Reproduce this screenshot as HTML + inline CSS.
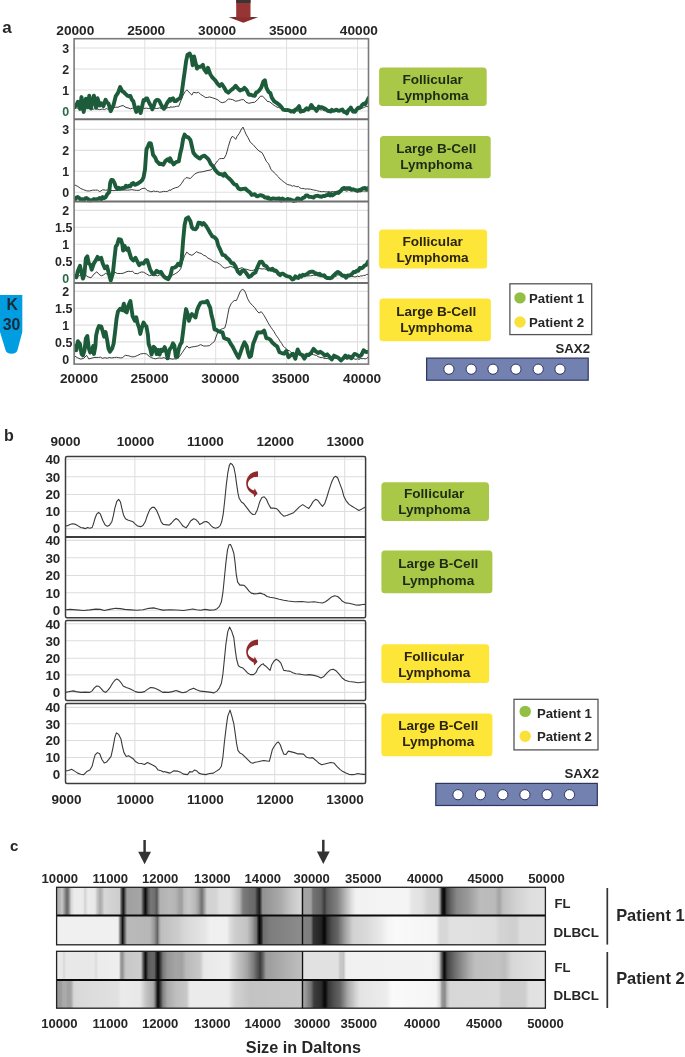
<!DOCTYPE html>
<html><head><meta charset="utf-8"><style>
html,body{margin:0;padding:0;background:#fff;}
body{width:685px;height:1057px;overflow:hidden;}
svg{display:block;will-change:transform;}
text{font-family:"Liberation Sans",sans-serif;font-weight:bold;}
</style></head><body>
<svg width="685" height="1057" viewBox="0 0 685 1057">
<rect width="685" height="1057" fill="#fff"/>
<text x="2.30" y="33.00" font-size="17" text-anchor="start" fill="#262626" >a</text>
<g><rect x="236.2" y="0" width="14.3" height="18" fill="#973535"/><rect x="236.2" y="0" width="14.3" height="3" fill="#3a3434"/><path d="M228.8,17.3 L258,17.3 L243.3,22.8 Z" fill="#8c2e2e"/><path d="M228.8,17.3 L236.2,17.3 L236.2,18.6 Z M250.5,17.3 L258,17.3 L250.5,18.6 Z" fill="#3a2a2a"/></g>
<text x="75.30" y="35.30" font-size="13.7" text-anchor="middle" fill="#262626" >20000</text>
<text x="146.20" y="35.30" font-size="13.7" text-anchor="middle" fill="#262626" >25000</text>
<text x="217.10" y="35.30" font-size="13.7" text-anchor="middle" fill="#262626" >30000</text>
<text x="288.00" y="35.30" font-size="13.7" text-anchor="middle" fill="#262626" >35000</text>
<text x="358.90" y="35.30" font-size="13.7" text-anchor="middle" fill="#262626" >40000</text>
<line x1="74.1" y1="48.0" x2="368.5" y2="48.0" stroke="#e0e0e0" stroke-width="1.1"/>
<line x1="74.1" y1="69.0" x2="368.5" y2="69.0" stroke="#e0e0e0" stroke-width="1.1"/>
<line x1="74.1" y1="90.0" x2="368.5" y2="90.0" stroke="#e0e0e0" stroke-width="1.1"/>
<line x1="74.1" y1="111.0" x2="368.5" y2="111.0" stroke="#e0e0e0" stroke-width="1.1"/>
<line x1="144.8" y1="38.7" x2="144.8" y2="119.1" stroke="#e0e0e0" stroke-width="1"/>
<line x1="215.70000000000002" y1="38.7" x2="215.70000000000002" y2="119.1" stroke="#e0e0e0" stroke-width="1"/>
<line x1="286.6" y1="38.7" x2="286.6" y2="119.1" stroke="#e0e0e0" stroke-width="1"/>
<line x1="357.5" y1="38.7" x2="357.5" y2="119.1" stroke="#e0e0e0" stroke-width="1"/>
<text x="65.70" y="52.84" font-size="12.4" text-anchor="middle" fill="#262626" >3</text>
<text x="65.70" y="73.84" font-size="12.4" text-anchor="middle" fill="#262626" >2</text>
<text x="65.70" y="94.84" font-size="12.4" text-anchor="middle" fill="#262626" >1</text>
<text x="65.70" y="115.84" font-size="12.4" text-anchor="middle" fill="#2d6a48" >0</text>
<line x1="74.1" y1="129.4" x2="368.5" y2="129.4" stroke="#e0e0e0" stroke-width="1.1"/>
<line x1="74.1" y1="150.4" x2="368.5" y2="150.4" stroke="#e0e0e0" stroke-width="1.1"/>
<line x1="74.1" y1="171.3" x2="368.5" y2="171.3" stroke="#e0e0e0" stroke-width="1.1"/>
<line x1="74.1" y1="192.2" x2="368.5" y2="192.2" stroke="#e0e0e0" stroke-width="1.1"/>
<line x1="144.8" y1="120.0" x2="144.8" y2="201.6" stroke="#e0e0e0" stroke-width="1"/>
<line x1="215.70000000000002" y1="120.0" x2="215.70000000000002" y2="201.6" stroke="#e0e0e0" stroke-width="1"/>
<line x1="286.6" y1="120.0" x2="286.6" y2="201.6" stroke="#e0e0e0" stroke-width="1"/>
<line x1="357.5" y1="120.0" x2="357.5" y2="201.6" stroke="#e0e0e0" stroke-width="1"/>
<text x="65.70" y="134.24" font-size="12.4" text-anchor="middle" fill="#262626" >3</text>
<text x="65.70" y="155.24" font-size="12.4" text-anchor="middle" fill="#262626" >2</text>
<text x="65.70" y="176.14" font-size="12.4" text-anchor="middle" fill="#262626" >1</text>
<text x="65.70" y="197.04" font-size="12.4" text-anchor="middle" fill="#262626" >0</text>
<line x1="74.1" y1="210.4" x2="368.5" y2="210.4" stroke="#e0e0e0" stroke-width="1.1"/>
<line x1="74.1" y1="227.3" x2="368.5" y2="227.3" stroke="#e0e0e0" stroke-width="1.1"/>
<line x1="74.1" y1="244.2" x2="368.5" y2="244.2" stroke="#e0e0e0" stroke-width="1.1"/>
<line x1="74.1" y1="261.1" x2="368.5" y2="261.1" stroke="#e0e0e0" stroke-width="1.1"/>
<line x1="74.1" y1="278.0" x2="368.5" y2="278.0" stroke="#e0e0e0" stroke-width="1.1"/>
<line x1="144.8" y1="202.0" x2="144.8" y2="282.8" stroke="#e0e0e0" stroke-width="1"/>
<line x1="215.70000000000002" y1="202.0" x2="215.70000000000002" y2="282.8" stroke="#e0e0e0" stroke-width="1"/>
<line x1="286.6" y1="202.0" x2="286.6" y2="282.8" stroke="#e0e0e0" stroke-width="1"/>
<line x1="357.5" y1="202.0" x2="357.5" y2="282.8" stroke="#e0e0e0" stroke-width="1"/>
<text x="65.70" y="215.24" font-size="12.4" text-anchor="middle" fill="#262626" >2</text>
<text x="63.70" y="232.14" font-size="12.4" text-anchor="middle" fill="#262626" >1.5</text>
<text x="65.70" y="249.04" font-size="12.4" text-anchor="middle" fill="#262626" >1</text>
<text x="63.70" y="265.94" font-size="12.4" text-anchor="middle" fill="#262626" >0.5</text>
<text x="65.70" y="282.84" font-size="12.4" text-anchor="middle" fill="#2d6a48" >0</text>
<line x1="74.1" y1="291.4" x2="368.5" y2="291.4" stroke="#e0e0e0" stroke-width="1.1"/>
<line x1="74.1" y1="308.3" x2="368.5" y2="308.3" stroke="#e0e0e0" stroke-width="1.1"/>
<line x1="74.1" y1="325.1" x2="368.5" y2="325.1" stroke="#e0e0e0" stroke-width="1.1"/>
<line x1="74.1" y1="341.9" x2="368.5" y2="341.9" stroke="#e0e0e0" stroke-width="1.1"/>
<line x1="74.1" y1="358.7" x2="368.5" y2="358.7" stroke="#e0e0e0" stroke-width="1.1"/>
<line x1="144.8" y1="283.2" x2="144.8" y2="364.1" stroke="#e0e0e0" stroke-width="1"/>
<line x1="215.70000000000002" y1="283.2" x2="215.70000000000002" y2="364.1" stroke="#e0e0e0" stroke-width="1"/>
<line x1="286.6" y1="283.2" x2="286.6" y2="364.1" stroke="#e0e0e0" stroke-width="1"/>
<line x1="357.5" y1="283.2" x2="357.5" y2="364.1" stroke="#e0e0e0" stroke-width="1"/>
<text x="65.70" y="296.24" font-size="12.4" text-anchor="middle" fill="#262626" >2</text>
<text x="63.70" y="313.14" font-size="12.4" text-anchor="middle" fill="#262626" >1.5</text>
<text x="65.70" y="329.94" font-size="12.4" text-anchor="middle" fill="#262626" >1</text>
<text x="63.70" y="346.74" font-size="12.4" text-anchor="middle" fill="#262626" >0.5</text>
<text x="65.70" y="363.54" font-size="12.4" text-anchor="middle" fill="#262626" >0</text>
<clipPath id="clipa"><rect x="74.1" y="38" width="294.4" height="327"/></clipPath>
<g clip-path="url(#clipa)">
<path d="M72.00,107.90 L73.62,107.80 L75.24,108.39 L76.87,107.89 L78.49,108.43 L80.11,108.34 L81.73,108.12 L83.35,108.65 L84.98,108.26 L86.60,108.74 L88.22,108.42 L89.84,108.49 L91.46,108.87 L93.09,109.32 L94.71,108.67 L96.33,108.82 L97.95,109.27 L99.58,109.64 L101.20,109.32 L102.90,109.06 L104.60,109.57 L106.31,108.57 L108.01,109.31 L109.71,108.67 L111.42,108.45 L113.61,107.69 L115.80,107.15 L117.99,107.29 L120.18,106.29 L123.09,105.53 L126.01,107.48 L128.20,107.95 L130.39,108.85 L132.22,108.26 L134.04,108.14 L135.87,108.18 L137.69,108.55 L139.52,108.29 L141.34,108.18 L143.17,108.45 L144.99,108.32 L146.61,108.13 L148.24,108.59 L149.86,108.47 L151.48,107.98 L153.10,108.28 L154.73,108.20 L156.35,108.51 L157.97,108.33 L159.59,107.86 L161.29,108.50 L163.00,107.59 L164.70,107.85 L166.40,108.14 L168.11,107.48 L169.81,107.77 L170.00,106.88 L172.19,107.15 L174.38,106.88 L176.57,106.32 L178.76,106.26 L180.95,100.59 L183.14,95.13 L185.33,91.38 L186.79,89.90 L188.25,91.24 L190.44,93.81 L191.90,95.09 L193.36,92.28 L196.28,92.91 L198.47,92.31 L200.66,94.41 L203.58,96.25 L205.77,97.62 L207.59,97.45 L209.42,96.91 L212.34,97.74 L215.26,98.75 L218.18,100.00 L220.36,102.20 L222.55,102.63 L225.47,101.85 L228.39,98.87 L230.58,99.29 L232.77,99.67 L235.69,101.25 L238.61,100.66 L241.53,99.69 L243.72,99.62 L245.91,102.18 L248.83,103.30 L251.75,102.62 L254.67,102.26 L257.59,99.68 L260.51,96.17 L262.70,96.31 L264.89,98.44 L267.81,101.89 L268.00,101.46 L269.52,101.79 L271.04,102.96 L272.55,104.15 L274.07,105.29 L275.59,106.30 L277.11,107.16 L278.63,107.60 L280.15,108.10 L281.66,108.89 L283.18,109.22 L284.70,109.82 L286.22,110.62 L287.74,110.76 L289.25,110.64 L290.77,110.81 L292.29,110.93 L293.81,110.36 L295.33,111.27 L296.84,111.04 L298.36,111.03 L299.88,110.84 L301.40,110.33 L302.92,110.23 L304.44,109.82 L305.95,110.25 L307.47,109.52 L308.99,109.38 L310.51,109.37 L312.03,109.17 L313.54,109.19 L315.06,109.06 L316.58,109.16 L318.10,109.46 L319.62,109.56 L321.13,109.98 L322.65,109.79 L324.17,110.79 L325.69,110.68 L327.21,110.37 L328.73,110.62 L330.24,110.66 L331.76,110.61 L333.28,110.31 L334.80,110.98 L336.32,111.06 L337.83,110.59 L339.35,110.67 L340.87,110.34 L342.39,110.41 L343.91,110.71 L345.43,110.57 L346.94,111.08 L348.46,110.35 L349.98,110.15 L351.50,111.02 L353.02,110.20 L354.53,109.42 L356.05,109.43 L357.57,108.52 L359.09,108.62 L360.61,108.69 L362.12,108.20 L363.64,107.65 L365.16,106.84 L366.83,106.56 L368.50,106.32" fill="none" stroke="#333" stroke-width="0.95" stroke-linejoin="round" stroke-linecap="round" />
<path d="M72.00,107.34 L73.46,107.94 L74.92,106.68 L76.38,105.04 L77.84,101.86 L80.03,108.92 L81.49,97.08 L83.68,112.06 L85.87,98.63 L88.06,107.29 L89.23,95.63 L90.98,108.60 L92.44,101.27 L93.90,95.70 L96.09,107.76 L97.55,98.28 L99.74,105.57 L101.20,103.21 L103.39,106.08 L105.58,99.74 L107.04,102.51 L108.50,103.58 L110.69,111.22 L112.15,108.05 L113.61,104.69 L115.80,96.10 L117.99,92.86 L120.18,87.03 L122.36,91.35 L123.58,91.85 L124.80,93.26 L126.01,94.36 L127.47,95.68 L128.93,96.35 L130.39,96.00 L131.85,99.61 L133.31,101.32 L134.77,106.97 L136.23,111.89 L138.42,107.23 L140.61,113.00 L142.07,106.56 L143.53,100.07 L144.75,100.44 L145.97,98.46 L147.18,98.52 L149.37,103.27 L150.83,105.65 L152.29,109.32 L153.75,106.14 L155.21,101.27 L156.67,100.05 L158.13,99.95 L159.59,101.47 L161.05,104.58 L162.51,107.29 L163.97,108.75 L165.43,106.60 L166.89,103.29 L168.35,101.12 L169.81,98.98 L170.00,100.88 L171.46,99.23 L172.92,98.25 L174.38,101.08 L175.84,101.10 L178.03,99.37 L180.22,98.08 L181.68,93.33 L183.14,82.61 L184.60,72.29 L186.06,61.45 L187.52,54.68 L189.71,53.60 L191.61,57.87 L192.63,65.20 L194.09,56.45 L195.55,62.64 L197.01,68.58 L198.47,66.64 L200.66,66.88 L202.85,64.92 L204.31,69.57 L206.50,72.47 L207.96,67.75 L210.15,73.96 L212.34,77.42 L213.80,78.95 L215.26,80.39 L217.45,83.66 L219.64,86.04 L221.82,84.02 L224.01,87.27 L226.20,91.21 L228.39,92.75 L230.58,90.50 L232.77,88.86 L234.23,87.39 L235.69,85.79 L237.15,87.68 L238.61,89.22 L240.07,90.45 L241.53,89.69 L242.99,89.59 L244.45,87.81 L246.64,90.06 L248.83,94.80 L250.29,94.59 L251.75,95.07 L253.21,95.51 L254.67,95.84 L256.13,92.62 L257.59,91.90 L259.05,90.57 L261.24,87.66 L263.43,81.49 L264.89,80.23 L266.35,87.71 L268.54,91.97 L270.28,92.87 L271.80,97.65 L274.07,101.07 L276.35,102.73 L278.63,104.27 L280.90,106.45 L283.18,109.57 L285.46,110.10 L287.74,110.07 L289.25,110.42 L290.77,111.50 L292.29,111.07 L293.81,111.82 L295.33,109.55 L296.84,108.97 L299.12,106.18 L300.64,111.74 L302.16,110.87 L303.68,110.97 L305.19,109.71 L306.71,108.19 L308.23,109.44 L309.75,108.10 L311.27,104.94 L313.54,108.07 L315.06,108.75 L316.58,110.84 L318.86,106.64 L320.38,107.43 L321.89,107.09 L323.41,108.06 L324.93,108.63 L326.45,109.76 L327.97,110.96 L329.23,110.98 L330.50,111.61 L331.76,109.81 L333.28,110.84 L334.80,110.44 L336.32,109.66 L337.83,110.50 L339.35,110.76 L340.87,110.14 L342.39,109.53 L343.91,111.94 L345.43,112.26 L346.94,113.43 L348.21,110.25 L349.47,109.34 L350.74,107.58 L353.02,111.48 L355.29,111.88 L356.81,109.30 L358.33,107.66 L359.59,107.98 L360.86,107.02 L362.12,105.03 L363.64,103.65 L365.16,104.20 L367.44,100.40 L368.50,97.97" fill="none" stroke="#1c5c3a" stroke-width="3.9" stroke-linejoin="round" stroke-linecap="round" />
<path d="M72.00,183.43 L74.92,185.01 L77.84,186.44 L80.76,188.53 L83.68,189.73 L86.60,190.84 L89.52,190.97 L92.44,190.23 L95.36,190.10 L97.55,190.12 L99.74,191.62 L102.66,189.81 L105.58,190.17 L107.77,190.12 L109.96,190.37 L112.88,190.59 L115.80,190.52 L118.72,190.30 L120.91,189.94 L123.09,190.12 L125.28,190.05 L127.47,190.14 L129.66,189.98 L131.85,189.65 L134.04,190.02 L136.23,190.34 L139.15,190.34 L142.07,188.60 L144.99,188.13 L147.18,190.53 L149.01,190.94 L150.83,191.84 L153.75,191.07 L155.70,191.45 L157.64,191.36 L159.59,192.23 L161.54,191.90 L163.48,191.39 L165.43,191.53 L167.62,191.33 L169.81,189.85 L170.00,190.56 L172.92,188.71 L175.84,187.61 L177.66,187.22 L179.49,186.05 L181.68,183.24 L183.87,179.77 L186.06,177.58 L188.25,177.97 L190.44,178.46 L192.63,176.14 L194.82,173.88 L197.01,172.92 L199.20,172.13 L202.12,171.84 L205.04,171.18 L207.96,170.40 L210.88,170.04 L213.07,167.66 L215.26,163.92 L217.45,160.92 L219.64,158.76 L221.82,158.49 L224.01,158.59 L226.20,154.55 L228.39,146.48 L230.58,139.23 L232.04,136.48 L233.50,136.91 L235.69,139.38 L237.15,136.28 L239.34,133.33 L241.53,128.96 L242.99,127.08 L244.45,130.42 L245.91,134.06 L248.10,137.79 L250.29,142.21 L253.21,144.78 L256.13,148.08 L259.05,151.09 L261.97,152.58 L264.16,156.66 L266.35,161.34 L268.54,163.76 L269.52,165.83 L271.04,169.45 L272.55,171.28 L274.07,172.44 L275.59,173.93 L277.11,175.73 L278.63,177.18 L280.15,179.05 L281.66,180.13 L283.18,181.49 L284.70,182.54 L286.22,183.74 L287.74,184.66 L289.25,184.93 L290.77,185.24 L292.29,186.28 L293.81,185.60 L295.33,186.33 L296.84,186.70 L298.36,186.56 L299.88,187.88 L301.40,188.47 L302.92,188.43 L304.44,188.76 L305.95,189.15 L307.47,188.78 L308.99,189.16 L310.51,189.14 L312.03,189.70 L313.54,189.90 L315.06,190.30 L316.58,190.44 L318.10,191.13 L319.62,191.29 L321.13,191.68 L322.65,191.60 L324.17,191.55 L325.69,191.81 L327.21,191.88 L328.73,191.48 L330.24,192.05 L331.76,191.63 L333.28,191.69 L334.80,191.69 L336.32,191.52 L337.83,191.10 L339.35,190.24 L340.87,190.65 L342.39,190.45 L343.91,190.05 L345.43,190.62 L346.94,191.27 L348.46,190.30 L349.98,190.59 L351.50,190.10 L353.02,189.93 L354.53,190.50 L356.05,191.34 L357.57,191.04 L359.09,191.81 L360.61,191.89 L362.12,191.26 L363.64,190.99 L365.16,191.09 L366.68,191.30 L368.20,191.11" fill="none" stroke="#333" stroke-width="0.95" stroke-linejoin="round" stroke-linecap="round" />
<path d="M72.00,200.61 L73.46,199.91 L74.92,199.61 L76.38,197.63 L77.84,197.06 L79.30,198.02 L80.76,199.83 L82.22,199.23 L83.68,200.17 L85.14,198.44 L86.60,198.03 L88.06,199.00 L89.52,200.40 L90.98,200.30 L92.44,200.12 L93.90,199.05 L95.36,199.33 L96.82,199.07 L98.28,198.93 L99.74,197.94 L101.20,199.43 L102.66,197.17 L104.12,198.15 L105.58,197.33 L107.04,194.58 L109.23,191.90 L110.25,182.48 L111.42,179.88 L112.88,180.20 L114.34,182.72 L115.80,186.97 L117.26,188.96 L118.72,187.71 L120.18,188.89 L121.64,188.28 L123.09,188.03 L124.55,187.88 L126.01,185.71 L127.47,186.86 L128.93,185.81 L130.39,186.27 L131.85,183.68 L133.31,183.01 L134.77,184.84 L136.23,184.30 L137.69,183.65 L139.88,182.14 L142.07,180.30 L143.53,177.29 L144.99,169.66 L145.72,159.09 L146.45,149.31 L147.91,146.33 L149.37,143.11 L150.83,143.45 L152.00,148.75 L153.02,154.78 L155.21,157.58 L156.67,161.18 L158.13,162.53 L159.59,164.04 L161.05,163.79 L163.24,164.70 L165.43,161.10 L167.62,159.22 L169.81,161.53 L170.00,158.11 L171.46,161.18 L173.65,164.49 L175.11,162.90 L176.57,161.92 L178.76,161.34 L180.22,153.56 L181.68,147.70 L183.14,138.89 L184.60,134.54 L186.06,136.54 L188.25,137.30 L190.44,139.89 L191.90,146.28 L193.36,152.69 L195.55,155.45 L197.74,157.24 L199.93,158.60 L202.12,156.47 L204.31,155.60 L206.50,157.44 L208.69,159.61 L210.88,164.04 L213.07,166.34 L215.26,169.92 L217.45,172.60 L219.64,174.00 L221.82,174.21 L223.28,175.78 L224.74,173.65 L226.93,176.60 L229.12,178.51 L231.31,180.60 L232.77,182.66 L234.23,184.28 L236.42,184.90 L238.61,188.69 L240.80,189.36 L242.99,188.91 L245.18,188.55 L247.37,190.53 L248.83,191.61 L250.29,192.81 L251.75,194.93 L253.21,194.61 L254.67,194.15 L256.13,195.81 L257.59,196.37 L259.05,195.53 L260.51,195.21 L261.97,195.70 L263.43,196.20 L264.89,197.48 L266.35,197.52 L267.81,198.43 L268.00,197.41 L269.21,198.25 L270.43,199.10 L271.64,198.95 L272.86,198.36 L274.07,198.51 L275.29,198.91 L276.50,198.74 L277.72,198.80 L278.93,198.35 L280.15,198.97 L281.36,200.49 L282.57,198.64 L283.79,199.47 L285.00,199.75 L286.22,200.26 L287.43,198.99 L288.65,199.26 L289.86,199.36 L291.08,199.85 L292.29,200.10 L293.50,201.07 L294.72,200.68 L295.93,200.59 L297.15,198.56 L298.36,198.43 L299.88,199.42 L301.40,199.32 L302.92,197.88 L304.44,197.38 L305.95,195.33 L307.47,195.43 L308.99,196.86 L310.51,196.89 L312.03,197.21 L313.54,197.57 L315.06,196.07 L316.58,195.87 L317.80,195.76 L319.01,196.35 L320.22,196.49 L321.44,196.85 L322.65,196.15 L323.87,195.84 L325.08,195.95 L326.30,195.12 L327.51,195.17 L328.73,193.89 L329.94,195.38 L331.15,194.02 L332.37,195.38 L333.58,194.62 L334.80,193.72 L336.06,192.82 L337.33,192.59 L338.59,192.93 L340.87,190.79 L342.39,188.74 L343.91,187.89 L345.43,188.51 L346.94,188.26 L348.46,188.21 L349.98,188.23 L351.50,189.82 L353.02,189.28 L354.53,189.92 L356.05,190.27 L357.57,190.98 L359.09,189.91 L360.61,190.06 L362.12,188.78 L363.64,188.10 L365.16,187.97 L366.68,189.32 L368.20,188.08" fill="none" stroke="#1c5c3a" stroke-width="3.9" stroke-linejoin="round" stroke-linecap="round" />
<path d="M72.00,276.12 L74.19,276.08 L76.38,276.16 L78.57,275.91 L80.76,275.36 L82.95,275.10 L85.14,274.94 L88.06,276.81 L90.98,277.80 L93.90,274.18 L96.82,271.80 L99.01,274.29 L101.20,275.83 L103.39,275.00 L105.58,273.42 L107.77,274.38 L109.96,274.69 L112.15,273.36 L114.34,271.97 L117.26,273.46 L120.18,273.53 L123.09,273.31 L126.01,271.99 L128.20,271.25 L130.39,271.50 L132.58,271.33 L134.77,273.44 L137.69,273.72 L139.52,272.68 L141.34,271.99 L143.53,272.18 L146.45,273.89 L149.37,275.63 L151.56,275.19 L153.75,275.81 L155.70,275.38 L157.64,275.90 L159.59,274.82 L161.54,275.22 L163.48,275.72 L165.43,276.54 L167.62,276.68 L169.81,276.30 L170.00,276.15 L172.92,274.95 L175.84,273.42 L178.76,271.36 L180.95,268.30 L182.41,261.75 L184.60,255.72 L186.79,252.09 L188.98,254.18 L191.90,255.35 L194.09,253.89 L196.28,251.66 L199.20,252.95 L201.39,253.52 L203.58,255.25 L205.77,256.06 L207.96,258.12 L210.88,259.48 L213.80,261.78 L216.72,262.19 L219.64,264.09 L222.55,266.74 L224.74,268.21 L227.66,267.38 L230.58,266.41 L232.77,267.13 L234.96,268.49 L237.15,269.76 L240.07,268.31 L242.26,267.75 L244.45,269.01 L246.64,269.31 L249.56,270.28 L251.39,270.53 L253.21,270.34 L255.40,269.25 L257.59,268.88 L259.78,268.54 L261.97,269.03 L264.16,268.74 L266.35,269.59 L268.54,270.18 L270.25,270.18 L271.97,270.67 L273.68,271.91 L275.40,272.13 L277.11,272.33 L278.63,273.34 L280.15,273.50 L281.66,274.01 L283.18,274.30 L284.70,275.61 L286.22,276.32 L287.74,276.61 L289.25,277.49 L290.77,277.14 L292.29,277.92 L293.81,277.78 L295.33,277.88 L296.84,277.50 L298.36,276.55 L299.88,276.27 L301.40,276.29 L302.92,276.20 L304.44,276.49 L305.95,275.59 L307.47,276.06 L308.99,275.84 L310.51,275.77 L312.03,275.57 L313.54,275.26 L315.06,275.28 L316.58,275.57 L318.10,275.92 L319.62,276.64 L321.13,276.25 L322.65,276.52 L324.17,277.22 L325.69,276.87 L327.21,276.84 L328.73,276.96 L330.24,277.22 L331.76,276.74 L333.28,277.15 L334.80,276.54 L336.32,276.14 L337.83,274.91 L339.35,274.92 L340.87,275.12 L342.39,275.72 L343.91,276.12 L345.43,275.85 L346.94,275.64 L348.46,275.82 L349.98,276.03 L351.50,276.27 L353.02,276.53 L354.53,276.82 L356.05,276.83 L357.57,276.10 L359.09,276.63 L360.61,275.89 L362.12,275.97 L363.64,275.40 L365.16,275.39 L366.68,274.47 L368.20,274.39" fill="none" stroke="#333" stroke-width="0.95" stroke-linejoin="round" stroke-linecap="round" />
<path d="M72.00,275.36 L74.19,276.08 L76.38,277.34 L77.84,270.92 L80.03,265.87 L81.49,272.61 L82.95,278.60 L84.41,274.08 L85.87,258.41 L87.33,256.34 L88.79,263.45 L90.25,264.57 L91.71,269.69 L93.90,263.36 L96.09,259.80 L97.55,256.91 L99.01,259.14 L101.20,257.85 L102.66,263.22 L104.85,268.16 L107.04,266.32 L108.50,272.31 L110.69,280.60 L112.88,273.18 L114.34,259.34 L115.80,246.43 L117.26,244.60 L118.72,239.30 L120.91,239.62 L122.36,244.41 L123.09,250.62 L124.55,245.85 L126.74,249.85 L128.20,248.44 L129.66,253.39 L131.12,258.11 L133.31,260.52 L135.50,257.74 L136.96,260.77 L139.15,265.18 L141.34,263.11 L143.53,263.58 L145.72,260.24 L147.18,260.20 L148.64,264.63 L150.10,269.38 L152.29,273.31 L154.48,273.80 L156.67,270.72 L158.86,272.37 L161.05,272.03 L163.24,275.77 L165.43,277.87 L166.89,278.58 L168.35,279.14 L170.54,275.01 L172.19,267.87 L174.38,267.58 L176.57,266.22 L178.03,263.76 L180.22,265.27 L181.68,259.39 L183.14,240.46 L184.60,224.96 L186.06,218.66 L188.25,217.33 L190.44,221.24 L191.90,227.37 L193.36,228.90 L195.55,229.26 L197.01,227.51 L198.47,222.71 L200.66,223.00 L202.12,224.61 L203.58,223.19 L205.77,225.52 L207.96,228.99 L210.15,232.96 L212.34,236.41 L214.53,237.21 L216.72,239.81 L218.18,245.37 L220.36,249.94 L222.55,254.92 L224.74,255.30 L226.93,257.93 L229.12,259.57 L231.31,262.78 L233.50,263.45 L235.69,266.68 L237.88,271.58 L240.07,273.93 L242.26,270.67 L244.45,270.78 L246.64,273.66 L248.83,276.94 L251.02,275.98 L253.21,273.63 L255.40,272.51 L257.59,266.74 L259.78,262.01 L261.97,261.79 L264.16,265.17 L266.35,266.18 L268.54,269.50 L269.79,269.11 L271.04,269.79 L272.55,268.71 L274.07,270.46 L275.59,270.36 L277.11,271.90 L278.63,274.01 L280.15,275.11 L281.66,273.69 L283.18,273.77 L284.70,274.93 L286.22,275.95 L287.74,276.41 L289.25,276.60 L290.77,277.63 L292.29,279.44 L293.81,279.06 L295.33,276.42 L296.84,277.56 L298.36,277.99 L299.88,275.65 L301.40,276.65 L302.92,274.69 L304.44,275.37 L305.95,274.50 L307.47,273.91 L308.99,272.44 L310.51,271.94 L312.03,271.53 L313.54,271.95 L315.06,273.22 L316.58,273.51 L318.10,274.25 L319.62,273.72 L321.13,275.41 L322.65,275.50 L324.17,275.32 L325.69,277.25 L327.21,278.04 L328.73,278.09 L330.24,278.24 L331.76,277.75 L333.28,275.80 L335.56,273.57 L337.83,271.96 L340.11,273.49 L341.63,275.02 L343.15,275.93 L344.67,275.66 L346.18,277.73 L347.70,275.37 L349.22,275.66 L350.74,275.00 L352.26,273.66 L353.78,271.89 L355.29,272.12 L356.81,270.70 L358.33,270.83 L359.85,267.90 L361.37,268.34 L362.88,267.51 L364.40,265.79 L366.68,264.45 L368.20,261.48" fill="none" stroke="#1c5c3a" stroke-width="3.9" stroke-linejoin="round" stroke-linecap="round" />
<path d="M72.73,354.69 L74.92,356.20 L77.84,357.90 L80.76,359.10 L83.68,358.33 L86.60,355.39 L88.79,358.93 L90.98,358.34 L93.90,357.48 L96.09,357.40 L98.28,357.44 L100.47,357.21 L102.66,358.31 L104.85,357.69 L107.04,358.23 L109.23,357.56 L111.42,357.91 L114.34,357.60 L116.53,357.26 L118.72,357.68 L120.54,357.92 L122.36,357.73 L125.28,355.26 L127.11,355.62 L128.93,355.82 L131.85,356.89 L134.77,356.63 L137.69,355.39 L140.61,353.93 L143.53,353.53 L146.45,353.88 L149.37,356.48 L151.56,357.68 L153.75,358.50 L155.70,358.77 L157.64,358.21 L159.59,357.99 L161.78,358.29 L163.97,357.52 L166.16,358.99 L168.35,359.21 L170.00,358.54 L172.19,359.16 L174.38,358.85 L176.20,358.99 L178.03,357.99 L180.22,355.58 L182.41,352.34 L184.60,349.10 L186.79,345.91 L188.98,347.94 L191.90,346.95 L194.82,346.55 L197.74,345.99 L200.66,344.62 L203.58,345.99 L206.50,346.03 L209.42,345.67 L212.34,343.13 L214.53,341.36 L215.99,337.01 L218.18,331.28 L220.36,329.56 L222.55,328.65 L224.74,328.00 L226.20,323.27 L227.66,315.21 L229.12,308.00 L231.31,303.32 L234.23,300.50 L236.42,300.48 L237.88,297.18 L240.07,291.83 L242.26,289.16 L244.45,290.48 L245.91,293.76 L247.37,298.15 L249.56,302.14 L252.48,305.48 L254.67,307.52 L256.86,310.83 L259.05,313.09 L261.24,311.67 L263.43,314.50 L265.62,318.09 L267.81,322.28 L268.00,322.60 L269.52,325.17 L271.04,327.45 L272.55,329.59 L274.07,331.61 L275.59,334.52 L277.11,336.72 L278.63,338.78 L280.15,341.35 L281.66,343.43 L283.18,346.20 L284.70,347.51 L286.22,348.55 L287.74,350.34 L289.25,350.62 L290.77,352.09 L292.29,352.96 L293.81,353.32 L295.33,353.67 L296.84,354.54 L298.36,353.93 L299.88,354.62 L301.40,355.01 L302.92,354.21 L304.44,354.27 L305.95,354.68 L307.47,354.57 L308.99,354.71 L310.51,354.98 L312.03,354.44 L313.54,354.68 L315.06,355.18 L316.58,355.43 L318.10,356.78 L319.62,357.18 L321.13,357.62 L322.65,357.41 L324.17,358.44 L325.69,358.53 L327.21,358.44 L328.73,358.91 L330.24,358.62 L331.76,358.39 L333.28,358.27 L334.80,358.40 L336.32,358.20 L337.83,358.50 L339.35,358.92 L340.87,358.86 L342.39,359.01 L343.91,358.88 L345.43,358.43 L346.94,358.72 L348.46,358.60 L349.98,358.95 L351.50,358.69 L353.02,358.43 L354.53,358.92 L356.05,359.36 L357.57,358.72 L359.09,359.50 L360.61,358.52 L362.12,358.65 L363.64,358.52 L365.16,358.91 L366.68,358.35 L368.20,357.15" fill="none" stroke="#333" stroke-width="0.95" stroke-linejoin="round" stroke-linecap="round" />
<path d="M72.73,364.29 L73.46,345.85 L74.92,345.61 L76.38,350.24 L77.84,341.28 L80.03,344.21 L81.49,353.82 L82.95,355.42 L84.41,350.98 L85.87,338.53 L87.33,335.95 L88.79,348.44 L90.25,352.51 L91.71,349.94 L93.17,346.10 L93.90,354.03 L95.36,346.39 L96.09,335.59 L97.55,329.54 L99.01,326.07 L101.20,326.33 L102.66,331.08 L104.12,336.69 L105.58,332.05 L107.04,339.53 L108.50,348.64 L109.96,351.73 L112.15,348.37 L113.61,343.74 L115.07,332.09 L116.53,318.92 L117.99,311.49 L120.18,308.71 L122.36,310.26 L123.82,303.67 L125.28,311.40 L126.74,312.36 L128.20,306.06 L130.39,300.95 L131.56,309.14 L132.58,316.08 L134.77,320.77 L136.23,317.22 L137.69,323.85 L139.15,327.85 L140.32,333.91 L141.78,327.86 L143.53,322.58 L144.99,325.10 L146.45,326.48 L147.91,334.85 L148.64,344.03 L150.10,347.98 L151.56,354.52 L153.75,346.81 L155.21,348.27 L156.67,354.10 L158.13,349.96 L159.59,354.59 L161.05,349.72 L162.51,351.02 L164.70,347.16 L166.16,351.59 L167.62,358.39 L169.08,351.05 L170.10,348.76 L171.46,347.25 L172.92,343.32 L174.38,345.55 L175.84,356.71 L177.30,356.88 L178.76,348.96 L180.22,344.63 L181.68,342.45 L183.14,331.30 L184.60,318.95 L186.06,309.09 L187.52,313.49 L188.98,320.75 L190.44,316.14 L191.90,314.09 L193.36,315.58 L195.55,317.40 L197.01,310.54 L198.47,306.66 L200.66,302.76 L202.85,302.08 L205.04,302.42 L207.23,300.96 L208.69,304.55 L210.15,307.58 L211.61,315.56 L213.07,321.08 L214.53,329.45 L215.99,329.65 L218.18,331.15 L220.36,331.89 L222.55,332.47 L224.01,337.91 L226.20,338.93 L228.39,339.54 L230.58,343.61 L232.77,346.77 L234.96,351.25 L237.15,355.43 L238.61,357.81 L240.07,353.81 L242.26,347.38 L244.45,342.37 L246.64,346.00 L248.10,352.93 L249.56,357.00 L251.02,355.85 L253.21,343.73 L255.40,338.29 L257.59,332.57 L259.78,332.52 L261.97,332.37 L264.16,330.64 L266.35,338.32 L268.10,338.35 L270.28,339.60 L272.55,342.80 L274.83,344.80 L277.11,346.32 L279.39,352.16 L281.66,353.02 L283.94,353.73 L286.22,351.08 L288.49,357.14 L290.77,355.23 L293.05,353.89 L295.33,358.70 L297.60,349.42 L299.88,353.95 L302.16,355.04 L304.44,358.60 L306.71,354.79 L308.99,354.96 L311.27,352.78 L313.54,348.88 L315.82,351.40 L318.10,353.04 L320.38,351.83 L322.65,353.35 L324.93,355.63 L327.21,354.32 L329.48,356.77 L331.76,359.47 L334.04,355.64 L336.32,356.77 L338.59,357.98 L340.87,360.47 L343.15,358.41 L345.43,355.51 L346.94,357.79 L348.46,356.27 L349.98,356.89 L351.50,358.21 L353.02,355.90 L354.53,353.87 L356.81,354.73 L359.09,356.48 L361.37,355.17 L363.64,350.21 L365.92,351.95 L368.20,351.83" fill="none" stroke="#1c5c3a" stroke-width="3.9" stroke-linejoin="round" stroke-linecap="round" />
</g>
<rect x="74.1" y="38.7" width="294.4" height="325.40000000000003" fill="none" stroke="#7a7a7a" stroke-width="1.6"/>
<line x1="74.1" y1="119.3" x2="368.5" y2="119.3" stroke="#6e6e6e" stroke-width="2"/>
<line x1="74.1" y1="201.6" x2="368.5" y2="201.6" stroke="#6e6e6e" stroke-width="2"/>
<line x1="74.1" y1="282.9" x2="368.5" y2="282.9" stroke="#6e6e6e" stroke-width="2"/>
<text x="79.00" y="382.80" font-size="13.7" text-anchor="middle" fill="#262626" >20000</text>
<text x="149.60" y="382.80" font-size="13.7" text-anchor="middle" fill="#262626" >25000</text>
<text x="220.40" y="382.80" font-size="13.7" text-anchor="middle" fill="#262626" >30000</text>
<text x="290.70" y="382.80" font-size="13.7" text-anchor="middle" fill="#262626" >35000</text>
<text x="362.10" y="382.80" font-size="13.7" text-anchor="middle" fill="#262626" >40000</text>
<path d="M0,295 L22.3,295 L22.3,332 L17.5,350 Q16.5,353.8 11.5,353.8 Q6.5,353.8 5.5,350 L0,332 Z" fill="#009ee0"/>
<text x="12.30" y="310.16" font-size="15.8" text-anchor="middle" fill="#1b2a3a" >K</text>
<text x="11.60" y="329.86" font-size="15.8" text-anchor="middle" fill="#1b2a3a" >30</text>
<rect x="379.1" y="67.6" width="107.59999999999997" height="38.5" rx="3.5" ry="3.5" fill="#a9c848"/>
<text x="432.60" y="83.80" font-size="13.6" text-anchor="middle" fill="#1f2a14" >Follicular</text>
<text x="432.60" y="99.90" font-size="13.6" text-anchor="middle" fill="#1f2a14" >Lymphoma</text>
<rect x="380" y="136.1" width="110.69999999999999" height="42.099999999999994" rx="3.5" ry="3.5" fill="#a9c848"/>
<text x="436.20" y="152.90" font-size="13.6" text-anchor="middle" fill="#1f2a14" >Large B-Cell</text>
<text x="436.20" y="168.90" font-size="13.6" text-anchor="middle" fill="#1f2a14" >Lymphoma</text>
<rect x="379.1" y="229.5" width="108.0" height="38.89999999999998" rx="3.5" ry="3.5" fill="#fde637"/>
<text x="432.60" y="245.70" font-size="13.6" text-anchor="middle" fill="#2a2410" >Follicular</text>
<text x="432.60" y="261.80" font-size="13.6" text-anchor="middle" fill="#2a2410" >Lymphoma</text>
<rect x="379.5" y="298.5" width="111.39999999999998" height="42.69999999999999" rx="3.5" ry="3.5" fill="#fde637"/>
<text x="436.20" y="315.70" font-size="13.6" text-anchor="middle" fill="#2a2410" >Large B-Cell</text>
<text x="436.20" y="331.50" font-size="13.6" text-anchor="middle" fill="#2a2410" >Lymphoma</text>
<rect x="509.9" y="283.8" width="81.80000000000007" height="50.80000000000001" fill="#fff" stroke="#555" stroke-width="1.3"/>
<circle cx="520" cy="297.9" r="5.7" fill="#93bf45"/>
<circle cx="520" cy="322" r="5.7" fill="#fbe03a"/>
<text x="529.00" y="302.80" font-size="13.2" text-anchor="start" fill="#262626" >Patient 1</text>
<text x="529.00" y="326.90" font-size="13.2" text-anchor="start" fill="#262626" >Patient 2</text>
<rect x="426.6" y="358.1" width="161.60000000000002" height="22.099999999999966" fill="#7281b0" stroke="#2e3560" stroke-width="1.2"/>
<circle cx="448.9" cy="369.2" r="5.1" fill="#fff" stroke="#2e3560" stroke-width="1"/>
<circle cx="471.2" cy="369.2" r="5.1" fill="#fff" stroke="#2e3560" stroke-width="1"/>
<circle cx="493.0" cy="369.2" r="5.1" fill="#fff" stroke="#2e3560" stroke-width="1"/>
<circle cx="515.9" cy="369.2" r="5.1" fill="#fff" stroke="#2e3560" stroke-width="1"/>
<circle cx="538.2" cy="369.2" r="5.1" fill="#fff" stroke="#2e3560" stroke-width="1"/>
<circle cx="560.0" cy="369.2" r="5.1" fill="#fff" stroke="#2e3560" stroke-width="1"/>
<text x="590.00" y="353.40" font-size="13.2" text-anchor="end" fill="#262626" >SAX2</text>
<text x="4.00" y="440.70" font-size="16" text-anchor="start" fill="#262626" >b</text>
<text x="65.50" y="445.83" font-size="13.5" text-anchor="middle" fill="#262626" >9000</text>
<text x="135.45" y="445.83" font-size="13.5" text-anchor="middle" fill="#262626" >10000</text>
<text x="205.40" y="445.83" font-size="13.5" text-anchor="middle" fill="#262626" >11000</text>
<text x="275.35" y="445.83" font-size="13.5" text-anchor="middle" fill="#262626" >12000</text>
<text x="345.30" y="445.83" font-size="13.5" text-anchor="middle" fill="#262626" >13000</text>
<line x1="65.5" y1="459.3" x2="365.6" y2="459.3" stroke="#dddddd" stroke-width="1.1"/>
<line x1="65.5" y1="476.7" x2="365.6" y2="476.7" stroke="#dddddd" stroke-width="1.1"/>
<line x1="65.5" y1="494.5" x2="365.6" y2="494.5" stroke="#dddddd" stroke-width="1.1"/>
<line x1="65.5" y1="511.5" x2="365.6" y2="511.5" stroke="#dddddd" stroke-width="1.1"/>
<line x1="65.5" y1="528.6" x2="365.6" y2="528.6" stroke="#dddddd" stroke-width="1.1"/>
<line x1="134.85000000000002" y1="456.5" x2="134.85000000000002" y2="537.0" stroke="#dddddd" stroke-width="1"/>
<line x1="204.8" y1="456.5" x2="204.8" y2="537.0" stroke="#dddddd" stroke-width="1"/>
<line x1="274.75" y1="456.5" x2="274.75" y2="537.0" stroke="#dddddd" stroke-width="1"/>
<line x1="344.70000000000005" y1="456.5" x2="344.70000000000005" y2="537.0" stroke="#dddddd" stroke-width="1"/>
<text x="60.30" y="464.10" font-size="13.4" text-anchor="end" fill="#262626" >40</text>
<text x="60.30" y="481.50" font-size="13.4" text-anchor="end" fill="#262626" >30</text>
<text x="60.30" y="499.30" font-size="13.4" text-anchor="end" fill="#262626" >20</text>
<text x="60.30" y="516.30" font-size="13.4" text-anchor="end" fill="#262626" >10</text>
<text x="60.30" y="533.40" font-size="13.4" text-anchor="end" fill="#262626" >0</text>
<line x1="65.5" y1="540.4" x2="365.6" y2="540.4" stroke="#dddddd" stroke-width="1.1"/>
<line x1="65.5" y1="557.8" x2="365.6" y2="557.8" stroke="#dddddd" stroke-width="1.1"/>
<line x1="65.5" y1="575.5" x2="365.6" y2="575.5" stroke="#dddddd" stroke-width="1.1"/>
<line x1="65.5" y1="592.8" x2="365.6" y2="592.8" stroke="#dddddd" stroke-width="1.1"/>
<line x1="65.5" y1="610.3" x2="365.6" y2="610.3" stroke="#dddddd" stroke-width="1.1"/>
<line x1="134.85000000000002" y1="537.0" x2="134.85000000000002" y2="617.8" stroke="#dddddd" stroke-width="1"/>
<line x1="204.8" y1="537.0" x2="204.8" y2="617.8" stroke="#dddddd" stroke-width="1"/>
<line x1="274.75" y1="537.0" x2="274.75" y2="617.8" stroke="#dddddd" stroke-width="1"/>
<line x1="344.70000000000005" y1="537.0" x2="344.70000000000005" y2="617.8" stroke="#dddddd" stroke-width="1"/>
<text x="60.30" y="545.20" font-size="13.4" text-anchor="end" fill="#262626" >40</text>
<text x="60.30" y="562.60" font-size="13.4" text-anchor="end" fill="#262626" >30</text>
<text x="60.30" y="580.30" font-size="13.4" text-anchor="end" fill="#262626" >20</text>
<text x="60.30" y="597.60" font-size="13.4" text-anchor="end" fill="#262626" >10</text>
<text x="60.30" y="615.10" font-size="13.4" text-anchor="end" fill="#262626" >0</text>
<line x1="65.5" y1="623.8" x2="365.6" y2="623.8" stroke="#dddddd" stroke-width="1.1"/>
<line x1="65.5" y1="640.8" x2="365.6" y2="640.8" stroke="#dddddd" stroke-width="1.1"/>
<line x1="65.5" y1="658.2" x2="365.6" y2="658.2" stroke="#dddddd" stroke-width="1.1"/>
<line x1="65.5" y1="674.9" x2="365.6" y2="674.9" stroke="#dddddd" stroke-width="1.1"/>
<line x1="65.5" y1="692.4" x2="365.6" y2="692.4" stroke="#dddddd" stroke-width="1.1"/>
<line x1="134.85000000000002" y1="620.6" x2="134.85000000000002" y2="700.6" stroke="#dddddd" stroke-width="1"/>
<line x1="204.8" y1="620.6" x2="204.8" y2="700.6" stroke="#dddddd" stroke-width="1"/>
<line x1="274.75" y1="620.6" x2="274.75" y2="700.6" stroke="#dddddd" stroke-width="1"/>
<line x1="344.70000000000005" y1="620.6" x2="344.70000000000005" y2="700.6" stroke="#dddddd" stroke-width="1"/>
<text x="60.30" y="628.60" font-size="13.4" text-anchor="end" fill="#262626" >40</text>
<text x="60.30" y="645.60" font-size="13.4" text-anchor="end" fill="#262626" >30</text>
<text x="60.30" y="663.00" font-size="13.4" text-anchor="end" fill="#262626" >20</text>
<text x="60.30" y="679.70" font-size="13.4" text-anchor="end" fill="#262626" >10</text>
<text x="60.30" y="697.20" font-size="13.4" text-anchor="end" fill="#262626" >0</text>
<line x1="65.5" y1="707.4" x2="365.6" y2="707.4" stroke="#dddddd" stroke-width="1.1"/>
<line x1="65.5" y1="723.8" x2="365.6" y2="723.8" stroke="#dddddd" stroke-width="1.1"/>
<line x1="65.5" y1="740.5" x2="365.6" y2="740.5" stroke="#dddddd" stroke-width="1.1"/>
<line x1="65.5" y1="757.5" x2="365.6" y2="757.5" stroke="#dddddd" stroke-width="1.1"/>
<line x1="65.5" y1="774.6" x2="365.6" y2="774.6" stroke="#dddddd" stroke-width="1.1"/>
<line x1="134.85000000000002" y1="703.5" x2="134.85000000000002" y2="783.4" stroke="#dddddd" stroke-width="1"/>
<line x1="204.8" y1="703.5" x2="204.8" y2="783.4" stroke="#dddddd" stroke-width="1"/>
<line x1="274.75" y1="703.5" x2="274.75" y2="783.4" stroke="#dddddd" stroke-width="1"/>
<line x1="344.70000000000005" y1="703.5" x2="344.70000000000005" y2="783.4" stroke="#dddddd" stroke-width="1"/>
<text x="60.30" y="712.20" font-size="13.4" text-anchor="end" fill="#262626" >40</text>
<text x="60.30" y="728.60" font-size="13.4" text-anchor="end" fill="#262626" >30</text>
<text x="60.30" y="745.30" font-size="13.4" text-anchor="end" fill="#262626" >20</text>
<text x="60.30" y="762.30" font-size="13.4" text-anchor="end" fill="#262626" >10</text>
<text x="60.30" y="779.40" font-size="13.4" text-anchor="end" fill="#262626" >0</text>
<path d="M65.52,526.05 L67.80,525.59 L70.07,524.53 L72.35,523.77 L74.63,524.08 L77.66,525.59 L80.70,527.57 L82.98,527.87 L85.25,528.63 L87.53,527.57 L89.81,528.17 L92.09,527.57 L93.60,523.32 L95.12,518.00 L96.64,514.21 L98.61,512.39 L100.44,514.21 L102.71,520.28 L104.99,524.83 L107.27,526.35 L109.54,525.14 L111.82,521.80 L113.34,515.73 L114.86,508.13 L116.83,501.30 L118.65,499.33 L120.47,502.06 L121.99,508.89 L123.51,514.97 L125.48,518.76 L127.76,519.98 L130.80,521.04 L133.08,521.80 L135.35,524.08 L137.63,526.05 L140.67,526.66 L142.94,525.59 L145.22,521.80 L147.50,514.97 L149.78,509.65 L152.05,507.38 L154.33,507.38 L156.61,510.41 L158.88,515.73 L161.16,521.80 L163.44,524.53 L164.00,524.53 L167.04,524.83 L169.31,525.14 L171.59,523.01 L173.87,520.28 L176.15,518.46 L178.42,519.98 L180.70,523.01 L182.98,526.05 L186.01,527.87 L188.29,524.83 L190.57,521.04 L193.60,518.76 L195.88,519.52 L198.16,521.80 L199.68,524.53 L201.95,523.32 L204.23,521.80 L206.51,521.49 L208.79,523.01 L211.06,525.59 L213.34,527.57 L215.62,528.33 L217.89,527.57 L220.17,525.59 L221.69,521.80 L223.21,514.21 L224.73,500.54 L226.24,485.36 L227.76,473.22 L229.28,465.63 L230.49,463.35 L232.32,464.41 L233.83,467.15 L235.35,474.74 L236.57,483.84 L237.93,492.95 L239.15,498.27 L241.43,502.06 L243.70,503.58 L245.98,506.62 L248.26,509.65 L250.53,512.69 L252.81,514.51 L255.09,514.21 L257.37,509.65 L259.64,502.06 L261.92,497.51 L264.20,496.75 L266.28,499.03 L268.55,504.34 L270.83,508.13 L273.11,508.13 L276.15,508.44 L278.42,510.41 L280.70,513.45 L283.74,516.18 L286.77,515.42 L289.81,514.21 L293.60,512.69 L296.64,509.65 L299.68,506.62 L302.71,504.64 L305.75,506.62 L308.79,508.44 L311.06,505.10 L313.34,501.30 L315.62,499.33 L317.89,500.54 L320.17,503.58 L322.45,506.31 L324.73,503.58 L327.00,496.75 L329.28,489.16 L331.56,482.33 L333.83,477.47 L335.66,476.25 L337.63,477.77 L339.91,483.84 L342.18,489.92 L343.70,495.99 L345.98,500.54 L349.02,504.34 L352.05,506.31 L355.09,508.13 L358.88,510.41 L361.92,508.89 L365.41,506.92" fill="none" stroke="#3a3a3a" stroke-width="1.1" stroke-linejoin="round" stroke-linecap="round" />
<path d="M65.52,609.69 L70.07,609.39 L76.15,609.84 L83.74,610.45 L89.81,609.84 L95.88,609.09 L100.44,609.39 L104.23,610.45 L109.54,609.39 L115.62,608.33 L120.17,608.63 L124.73,609.39 L130.80,609.84 L136.87,610.30 L142.94,609.69 L149.02,608.33 L153.57,607.87 L158.12,608.93 L162.68,610.15 L164.00,610.15 L170.07,609.69 L176.15,610.00 L183.74,610.45 L188.29,609.69 L192.84,608.93 L196.64,609.69 L200.44,610.30 L204.99,609.39 L209.54,610.15 L214.10,610.00 L217.13,608.63 L219.41,606.35 L221.39,601.80 L222.90,592.69 L224.42,577.51 L225.94,562.33 L227.46,550.18 L228.98,544.87 L230.49,544.41 L232.01,547.90 L233.83,553.22 L235.05,562.33 L236.26,574.47 L237.63,582.06 L239.91,585.10 L242.18,585.10 L244.46,585.55 L246.74,588.13 L249.02,591.17 L251.29,593.14 L254.33,593.90 L257.37,593.60 L260.40,593.14 L263.44,594.21 L264.00,594.21 L267.04,596.48 L270.07,597.24 L274.63,598.00 L279.18,599.22 L283.74,600.28 L288.29,601.04 L294.36,601.80 L301.95,601.49 L308.03,602.25 L314.10,601.80 L318.65,602.56 L322.45,603.01 L325.48,601.80 L328.52,599.52 L331.56,596.94 L334.59,595.73 L337.63,596.48 L339.91,598.46 L342.18,601.04 L345.22,602.86 L349.02,603.32 L352.05,604.08 L355.09,604.83 L358.88,605.14 L362.68,604.53 L365.41,604.38" fill="none" stroke="#3a3a3a" stroke-width="1.1" stroke-linejoin="round" stroke-linecap="round" />
<path d="M65.52,692.39 L68.55,691.78 L73.11,690.87 L76.15,691.63 L80.70,692.39 L85.25,692.09 L89.81,692.39 L92.09,690.87 L94.36,687.83 L96.64,686.01 L98.92,686.32 L101.19,688.59 L103.47,691.33 L105.75,692.39 L108.03,690.11 L110.30,687.08 L112.58,683.28 L114.86,680.24 L116.83,679.03 L118.96,680.24 L120.93,682.52 L123.21,686.01 L126.24,687.53 L129.28,688.59 L132.32,690.11 L135.35,691.63 L138.39,692.39 L141.43,692.39 L144.46,691.63 L147.50,689.35 L150.53,687.53 L153.57,687.83 L156.61,689.05 L159.64,690.57 L162.68,692.39 L164.00,692.09 L168.55,692.39 L172.35,691.63 L176.15,690.57 L179.18,691.63 L182.22,692.69 L186.01,692.09 L189.05,690.11 L193.60,688.14 L196.64,689.66 L200.44,691.17 L204.99,691.63 L209.54,692.09 L214.10,692.84 L217.13,690.87 L219.41,687.83 L221.39,683.28 L222.90,674.17 L224.42,658.99 L225.94,643.81 L227.76,631.66 L229.58,627.11 L231.56,630.90 L233.83,637.74 L235.05,648.36 L236.57,658.99 L238.39,665.82 L240.67,667.34 L242.94,668.10 L245.22,670.38 L247.50,672.96 L250.53,674.63 L253.57,674.63 L255.85,672.65 L258.12,668.10 L261.16,664.76 L263.44,663.85 L264.00,665.06 L266.28,666.58 L268.55,668.86 L270.07,670.38 L271.59,665.06 L273.87,661.27 L276.15,659.29 L278.42,660.51 L280.70,662.79 L282.22,666.58 L283.74,670.38 L286.77,670.83 L289.81,671.13 L292.84,672.65 L295.88,673.72 L300.44,674.17 L304.99,674.93 L309.54,674.63 L314.10,675.39 L317.89,676.45 L320.93,677.97 L323.97,676.45 L327.00,672.96 L330.04,670.07 L333.08,669.16 L336.11,670.83 L339.15,674.17 L342.18,677.97 L345.22,680.24 L349.02,681.46 L353.57,682.07 L358.12,682.82 L361.92,682.22 L365.41,682.07" fill="none" stroke="#3a3a3a" stroke-width="1.1" stroke-linejoin="round" stroke-linecap="round" />
<path d="M65.52,770.83 L68.55,770.53 L71.59,769.32 L74.63,771.14 L77.66,773.11 L80.70,774.17 L83.74,774.63 L86.77,771.59 L89.81,770.08 L92.09,766.28 L93.60,760.21 L95.12,754.89 L97.40,752.62 L99.68,753.83 L101.95,759.45 L104.23,762.94 L106.51,762.03 L108.79,759.45 L111.06,756.41 L112.88,748.06 L114.86,737.44 L116.38,732.88 L118.65,734.40 L120.93,738.95 L122.45,746.54 L123.97,752.62 L126.24,756.41 L128.52,755.65 L130.80,757.17 L133.08,758.69 L135.35,761.42 L138.39,763.24 L141.43,763.55 L144.46,764.46 L147.50,762.48 L150.53,764.00 L153.57,765.52 L155.85,767.04 L158.12,770.08 L161.16,770.83 L163.44,772.05 L164.00,771.59 L167.04,772.35 L170.07,773.11 L173.87,770.83 L177.66,771.14 L180.70,772.35 L183.74,774.17 L187.53,774.63 L189.81,771.59 L192.09,772.05 L194.36,770.08 L196.64,770.83 L198.92,773.11 L201.95,774.17 L205.75,774.63 L209.54,773.57 L213.34,773.11 L216.38,771.14 L219.41,769.32 L221.39,766.28 L222.90,757.17 L224.42,741.99 L226.24,726.81 L227.76,716.18 L230.04,710.11 L231.86,716.18 L233.83,723.77 L235.35,734.40 L236.57,743.51 L237.93,750.34 L239.91,752.92 L242.18,754.13 L244.46,756.41 L247.50,759.45 L250.53,762.48 L252.81,763.24 L255.09,762.18 L258.12,761.73 L261.16,760.97 L263.44,760.66 L264.00,760.66 L267.04,760.97 L269.31,761.27 L270.83,755.65 L272.35,749.58 L274.63,745.79 L276.90,742.75 L278.42,741.99 L280.40,745.03 L281.91,749.58 L283.74,754.13 L286.01,754.44 L288.29,751.10 L291.33,751.86 L294.36,752.62 L297.40,753.83 L300.44,753.83 L303.47,754.13 L306.51,757.17 L309.54,757.93 L312.58,757.63 L315.62,760.21 L318.65,762.94 L321.69,764.76 L324.73,764.00 L327.76,763.24 L330.80,762.48 L333.83,762.94 L336.87,766.28 L339.91,769.32 L342.94,771.59 L345.98,773.11 L349.02,774.33 L352.05,774.63 L355.09,774.33 L358.12,773.57 L361.16,774.17 L364.20,774.33 L365.41,774.63" fill="none" stroke="#3a3a3a" stroke-width="1.1" stroke-linejoin="round" stroke-linecap="round" />
<rect x="65.5" y="456.5" width="300.1" height="161.29999999999995" rx="1.5" fill="none" stroke="#3c3c3c" stroke-width="1.5"/>
<line x1="65.5" y1="537.0" x2="365.6" y2="537.0" stroke="#3c3c3c" stroke-width="1.8"/>
<rect x="65.5" y="620.6" width="300.1" height="80.0" rx="1.5" fill="none" stroke="#3c3c3c" stroke-width="1.5"/>
<rect x="65.5" y="703.5" width="300.1" height="79.89999999999998" rx="1.5" fill="none" stroke="#3c3c3c" stroke-width="1.5"/>
<path transform="translate(0,0)" d="M258,471.2 C252,471.3 246.2,475.5 246.2,483.5 C246.3,489 249.5,492.2 253.6,494.3 L254.2,497.3 L257.6,493.4 L254.6,488.3 L254.2,490.6 C250.6,489 247.8,487 247.9,484.3 C248.1,480 252,476.8 258,476.7 Z" fill="#8e2a2e"/>
<path transform="translate(0,168.3)" d="M258,471.2 C252,471.3 246.2,475.5 246.2,483.5 C246.3,489 249.5,492.2 253.6,494.3 L254.2,497.3 L257.6,493.4 L254.6,488.3 L254.2,490.6 C250.6,489 247.8,487 247.9,484.3 C248.1,480 252,476.8 258,476.7 Z" fill="#8e2a2e"/>
<text x="66.40" y="804.13" font-size="13.5" text-anchor="middle" fill="#262626" >9000</text>
<text x="135.20" y="804.13" font-size="13.5" text-anchor="middle" fill="#262626" >10000</text>
<text x="205.40" y="804.13" font-size="13.5" text-anchor="middle" fill="#262626" >11000</text>
<text x="274.90" y="804.13" font-size="13.5" text-anchor="middle" fill="#262626" >12000</text>
<text x="344.90" y="804.13" font-size="13.5" text-anchor="middle" fill="#262626" >13000</text>
<rect x="381.4" y="482.3" width="107.60000000000002" height="38.599999999999966" rx="3.5" ry="3.5" fill="#a9c848"/>
<text x="434.20" y="498.20" font-size="13.6" text-anchor="middle" fill="#1f2a14" >Follicular</text>
<text x="434.20" y="514.40" font-size="13.6" text-anchor="middle" fill="#1f2a14" >Lymphoma</text>
<rect x="381.4" y="550.6" width="111.0" height="42.69999999999993" rx="3.5" ry="3.5" fill="#a9c848"/>
<text x="438.20" y="568.30" font-size="13.6" text-anchor="middle" fill="#1f2a14" >Large B-Cell</text>
<text x="438.20" y="584.50" font-size="13.6" text-anchor="middle" fill="#1f2a14" >Lymphoma</text>
<rect x="381.4" y="644.2" width="107.80000000000001" height="38.89999999999998" rx="3.5" ry="3.5" fill="#fde637"/>
<text x="434.20" y="660.50" font-size="13.6" text-anchor="middle" fill="#2a2410" >Follicular</text>
<text x="434.20" y="676.60" font-size="13.6" text-anchor="middle" fill="#2a2410" >Lymphoma</text>
<rect x="381.4" y="713.5" width="111.0" height="42.700000000000045" rx="3.5" ry="3.5" fill="#fde637"/>
<text x="438.20" y="730.30" font-size="13.6" text-anchor="middle" fill="#2a2410" >Large B-Cell</text>
<text x="438.20" y="746.40" font-size="13.6" text-anchor="middle" fill="#2a2410" >Lymphoma</text>
<rect x="514.0" y="699.3" width="84.0" height="50.60000000000002" fill="#fff" stroke="#555" stroke-width="1.3"/>
<circle cx="525.2" cy="711.4" r="5.7" fill="#93bf45"/>
<circle cx="525.2" cy="736.2" r="5.7" fill="#fbe03a"/>
<text x="536.90" y="718.10" font-size="13.2" text-anchor="start" fill="#262626" >Patient 1</text>
<text x="536.90" y="741.20" font-size="13.2" text-anchor="start" fill="#262626" >Patient 2</text>
<rect x="435.8" y="783.4" width="161.49999999999994" height="22.100000000000023" fill="#7281b0" stroke="#2e3560" stroke-width="1.2"/>
<circle cx="458.0" cy="794.7" r="5.1" fill="#fff" stroke="#2e3560" stroke-width="1"/>
<circle cx="480.4" cy="794.7" r="5.1" fill="#fff" stroke="#2e3560" stroke-width="1"/>
<circle cx="502.8" cy="794.7" r="5.1" fill="#fff" stroke="#2e3560" stroke-width="1"/>
<circle cx="524.9" cy="794.7" r="5.1" fill="#fff" stroke="#2e3560" stroke-width="1"/>
<circle cx="547.1" cy="794.7" r="5.1" fill="#fff" stroke="#2e3560" stroke-width="1"/>
<circle cx="569.5" cy="794.7" r="5.1" fill="#fff" stroke="#2e3560" stroke-width="1"/>
<text x="599.00" y="778.20" font-size="13.2" text-anchor="end" fill="#262626" >SAX2</text>
<text x="10.00" y="850.60" font-size="15" text-anchor="start" fill="#262626" >c</text>
<line x1="144.6" y1="840.0" x2="144.6" y2="856.3" stroke="#333" stroke-width="2.5"/>
<path d="M138.2,851.6999999999999 L151.0,851.6999999999999 L144.6,864.3 Z" fill="#333"/>
<line x1="323.3" y1="839.8" x2="323.3" y2="856.0" stroke="#333" stroke-width="2.5"/>
<path d="M316.90000000000003,851.4 L329.7,851.4 L323.3,864.0 Z" fill="#333"/>
<text x="59.80" y="882.60" font-size="13.1" text-anchor="middle" fill="#262626" >10000</text>
<text x="110.30" y="882.60" font-size="13.1" text-anchor="middle" fill="#262626" >11000</text>
<text x="160.20" y="882.60" font-size="13.1" text-anchor="middle" fill="#262626" >12000</text>
<text x="212.30" y="882.60" font-size="13.1" text-anchor="middle" fill="#262626" >13000</text>
<text x="262.80" y="882.60" font-size="13.1" text-anchor="middle" fill="#262626" >14000</text>
<text x="311.60" y="882.60" font-size="13.1" text-anchor="middle" fill="#262626" >30000</text>
<text x="363.30" y="882.60" font-size="13.1" text-anchor="middle" fill="#262626" >35000</text>
<text x="425.20" y="882.60" font-size="13.1" text-anchor="middle" fill="#262626" >40000</text>
<text x="485.60" y="882.60" font-size="13.1" text-anchor="middle" fill="#262626" >45000</text>
<text x="546.50" y="882.60" font-size="13.1" text-anchor="middle" fill="#262626" >50000</text>
<text x="59.40" y="1028.30" font-size="13.1" text-anchor="middle" fill="#262626" >10000</text>
<text x="110.30" y="1028.30" font-size="13.1" text-anchor="middle" fill="#262626" >11000</text>
<text x="160.20" y="1028.30" font-size="13.1" text-anchor="middle" fill="#262626" >12000</text>
<text x="212.30" y="1028.30" font-size="13.1" text-anchor="middle" fill="#262626" >13000</text>
<text x="262.80" y="1028.30" font-size="13.1" text-anchor="middle" fill="#262626" >14000</text>
<text x="312.10" y="1028.30" font-size="13.1" text-anchor="middle" fill="#262626" >30000</text>
<text x="358.80" y="1028.30" font-size="13.1" text-anchor="middle" fill="#262626" >35000</text>
<text x="422.20" y="1028.30" font-size="13.1" text-anchor="middle" fill="#262626" >40000</text>
<text x="484.20" y="1028.30" font-size="13.1" text-anchor="middle" fill="#262626" >45000</text>
<text x="545.50" y="1028.30" font-size="13.1" text-anchor="middle" fill="#262626" >50000</text>
<text x="303.40" y="1052.60" font-size="16.2" text-anchor="middle" fill="#262626" >Size in Daltons</text>
<defs>
<linearGradient id="g1" gradientUnits="userSpaceOnUse" x1="56.0" y1="0" x2="545.5" y2="0">
<stop offset="0.0000" stop-color="rgb(175,175,175)"/>
<stop offset="0.0082" stop-color="rgb(180,180,180)"/>
<stop offset="0.0123" stop-color="rgb(200,200,200)"/>
<stop offset="0.0184" stop-color="rgb(140,140,140)"/>
<stop offset="0.0225" stop-color="rgb(100,100,100)"/>
<stop offset="0.0266" stop-color="rgb(140,140,140)"/>
<stop offset="0.0306" stop-color="rgb(210,210,210)"/>
<stop offset="0.0368" stop-color="rgb(235,235,235)"/>
<stop offset="0.0552" stop-color="rgb(235,235,235)"/>
<stop offset="0.0592" stop-color="rgb(210,210,210)"/>
<stop offset="0.0654" stop-color="rgb(235,235,235)"/>
<stop offset="0.0797" stop-color="rgb(232,232,232)"/>
<stop offset="0.0838" stop-color="rgb(200,200,200)"/>
<stop offset="0.0903" stop-color="rgb(168,168,168)"/>
<stop offset="0.0950" stop-color="rgb(190,190,190)"/>
<stop offset="0.0989" stop-color="rgb(215,215,215)"/>
<stop offset="0.1299" stop-color="rgb(205,205,205)"/>
<stop offset="0.1328" stop-color="rgb(110,110,110)"/>
<stop offset="0.1373" stop-color="rgb(15,15,15)"/>
<stop offset="0.1422" stop-color="rgb(110,110,110)"/>
<stop offset="0.1450" stop-color="rgb(160,160,160)"/>
<stop offset="0.1736" stop-color="rgb(165,165,165)"/>
<stop offset="0.1777" stop-color="rgb(80,80,80)"/>
<stop offset="0.1826" stop-color="rgb(10,10,10)"/>
<stop offset="0.1888" stop-color="rgb(90,90,90)"/>
<stop offset="0.1941" stop-color="rgb(120,120,120)"/>
<stop offset="0.2022" stop-color="rgb(110,110,110)"/>
<stop offset="0.2059" stop-color="rgb(85,85,85)"/>
<stop offset="0.2094" stop-color="rgb(140,140,140)"/>
<stop offset="0.2125" stop-color="rgb(178,178,178)"/>
<stop offset="0.2329" stop-color="rgb(185,185,185)"/>
<stop offset="0.2451" stop-color="rgb(180,180,180)"/>
<stop offset="0.2513" stop-color="rgb(162,162,162)"/>
<stop offset="0.2574" stop-color="rgb(160,160,160)"/>
<stop offset="0.2615" stop-color="rgb(190,190,190)"/>
<stop offset="0.2717" stop-color="rgb(200,200,200)"/>
<stop offset="0.2840" stop-color="rgb(185,185,185)"/>
<stop offset="0.2901" stop-color="rgb(165,165,165)"/>
<stop offset="0.2979" stop-color="rgb(110,110,110)"/>
<stop offset="0.3040" stop-color="rgb(170,170,170)"/>
<stop offset="0.3085" stop-color="rgb(210,210,210)"/>
<stop offset="0.3269" stop-color="rgb(212,212,212)"/>
<stop offset="0.3350" stop-color="rgb(225,225,225)"/>
<stop offset="0.3555" stop-color="rgb(225,225,225)"/>
<stop offset="0.3657" stop-color="rgb(205,205,205)"/>
<stop offset="0.3755" stop-color="rgb(180,180,180)"/>
<stop offset="0.3820" stop-color="rgb(125,125,125)"/>
<stop offset="0.3963" stop-color="rgb(110,110,110)"/>
<stop offset="0.4065" stop-color="rgb(105,105,105)"/>
<stop offset="0.4106" stop-color="rgb(60,60,60)"/>
<stop offset="0.4159" stop-color="rgb(30,30,30)"/>
<stop offset="0.4221" stop-color="rgb(145,145,145)"/>
<stop offset="0.4588" stop-color="rgb(170,170,170)"/>
<stop offset="0.4780" stop-color="rgb(195,195,195)"/>
<stop offset="0.5005" stop-color="rgb(215,215,215)"/>
<stop offset="0.5042" stop-color="rgb(165,165,165)"/>
<stop offset="0.5209" stop-color="rgb(160,160,160)"/>
<stop offset="0.5250" stop-color="rgb(115,115,115)"/>
<stop offset="0.5414" stop-color="rgb(100,100,100)"/>
<stop offset="0.5483" stop-color="rgb(60,60,60)"/>
<stop offset="0.5536" stop-color="rgb(95,95,95)"/>
<stop offset="0.5753" stop-color="rgb(130,130,130)"/>
<stop offset="0.5904" stop-color="rgb(180,180,180)"/>
<stop offset="0.6047" stop-color="rgb(225,225,225)"/>
<stop offset="0.6129" stop-color="rgb(242,242,242)"/>
<stop offset="0.7191" stop-color="rgb(245,245,245)"/>
<stop offset="0.7273" stop-color="rgb(230,230,230)"/>
<stop offset="0.7477" stop-color="rgb(225,225,225)"/>
<stop offset="0.7600" stop-color="rgb(210,210,210)"/>
<stop offset="0.7804" stop-color="rgb(205,205,205)"/>
<stop offset="0.7845" stop-color="rgb(150,150,150)"/>
<stop offset="0.7886" stop-color="rgb(30,30,30)"/>
<stop offset="0.7931" stop-color="rgb(5,5,5)"/>
<stop offset="0.7984" stop-color="rgb(70,70,70)"/>
<stop offset="0.8069" stop-color="rgb(100,100,100)"/>
<stop offset="0.8188" stop-color="rgb(135,135,135)"/>
<stop offset="0.8429" stop-color="rgb(155,155,155)"/>
<stop offset="0.8662" stop-color="rgb(188,188,188)"/>
<stop offset="0.8968" stop-color="rgb(186,186,186)"/>
<stop offset="0.9054" stop-color="rgb(163,163,163)"/>
<stop offset="0.9132" stop-color="rgb(192,192,192)"/>
<stop offset="0.9397" stop-color="rgb(210,210,210)"/>
<stop offset="0.9683" stop-color="rgb(222,222,222)"/>
<stop offset="0.9990" stop-color="rgb(225,225,225)"/>
</linearGradient>
<linearGradient id="g2" gradientUnits="userSpaceOnUse" x1="56.0" y1="0" x2="545.5" y2="0">
<stop offset="0.0000" stop-color="rgb(240,240,240)"/>
<stop offset="0.1267" stop-color="rgb(240,240,240)"/>
<stop offset="0.1312" stop-color="rgb(120,120,120)"/>
<stop offset="0.1361" stop-color="rgb(15,15,15)"/>
<stop offset="0.1410" stop-color="rgb(110,110,110)"/>
<stop offset="0.1450" stop-color="rgb(185,185,185)"/>
<stop offset="0.1920" stop-color="rgb(183,183,183)"/>
<stop offset="0.2010" stop-color="rgb(150,150,150)"/>
<stop offset="0.2072" stop-color="rgb(100,100,100)"/>
<stop offset="0.2108" stop-color="rgb(160,160,160)"/>
<stop offset="0.2145" stop-color="rgb(190,190,190)"/>
<stop offset="0.2513" stop-color="rgb(205,205,205)"/>
<stop offset="0.2635" stop-color="rgb(215,215,215)"/>
<stop offset="0.3044" stop-color="rgb(230,230,230)"/>
<stop offset="0.3146" stop-color="rgb(240,240,240)"/>
<stop offset="0.3493" stop-color="rgb(240,240,240)"/>
<stop offset="0.3555" stop-color="rgb(220,220,220)"/>
<stop offset="0.3657" stop-color="rgb(205,205,205)"/>
<stop offset="0.3902" stop-color="rgb(195,195,195)"/>
<stop offset="0.4004" stop-color="rgb(160,160,160)"/>
<stop offset="0.4098" stop-color="rgb(110,110,110)"/>
<stop offset="0.4127" stop-color="rgb(40,40,40)"/>
<stop offset="0.4159" stop-color="rgb(5,5,5)"/>
<stop offset="0.4198" stop-color="rgb(40,40,40)"/>
<stop offset="0.4239" stop-color="rgb(110,110,110)"/>
<stop offset="0.4372" stop-color="rgb(125,125,125)"/>
<stop offset="0.5005" stop-color="rgb(140,140,140)"/>
<stop offset="0.5042" stop-color="rgb(130,130,130)"/>
<stop offset="0.5209" stop-color="rgb(125,125,125)"/>
<stop offset="0.5260" stop-color="rgb(50,50,50)"/>
<stop offset="0.5414" stop-color="rgb(35,35,35)"/>
<stop offset="0.5483" stop-color="rgb(5,5,5)"/>
<stop offset="0.5546" stop-color="rgb(50,50,50)"/>
<stop offset="0.5638" stop-color="rgb(80,80,80)"/>
<stop offset="0.5753" stop-color="rgb(100,100,100)"/>
<stop offset="0.5904" stop-color="rgb(160,160,160)"/>
<stop offset="0.6067" stop-color="rgb(210,210,210)"/>
<stop offset="0.6353" stop-color="rgb(218,218,218)"/>
<stop offset="0.6619" stop-color="rgb(232,232,232)"/>
<stop offset="0.6782" stop-color="rgb(245,245,245)"/>
<stop offset="0.6925" stop-color="rgb(250,250,250)"/>
<stop offset="0.7763" stop-color="rgb(245,245,245)"/>
<stop offset="0.7845" stop-color="rgb(215,215,215)"/>
<stop offset="0.7984" stop-color="rgb(215,215,215)"/>
<stop offset="0.8049" stop-color="rgb(225,225,225)"/>
<stop offset="0.8355" stop-color="rgb(225,225,225)"/>
<stop offset="0.8968" stop-color="rgb(222,222,222)"/>
<stop offset="0.9070" stop-color="rgb(212,212,212)"/>
<stop offset="0.9397" stop-color="rgb(207,207,207)"/>
<stop offset="0.9479" stop-color="rgb(220,220,220)"/>
<stop offset="0.9990" stop-color="rgb(222,222,222)"/>
</linearGradient>
<linearGradient id="g3" gradientUnits="userSpaceOnUse" x1="56.0" y1="0" x2="545.5" y2="0">
<stop offset="0.0000" stop-color="rgb(235,235,235)"/>
<stop offset="0.0123" stop-color="rgb(232,232,232)"/>
<stop offset="0.0163" stop-color="rgb(215,215,215)"/>
<stop offset="0.0204" stop-color="rgb(232,232,232)"/>
<stop offset="0.0776" stop-color="rgb(232,232,232)"/>
<stop offset="0.0817" stop-color="rgb(220,220,220)"/>
<stop offset="0.0858" stop-color="rgb(235,235,235)"/>
<stop offset="0.1287" stop-color="rgb(238,238,238)"/>
<stop offset="0.1318" stop-color="rgb(170,170,170)"/>
<stop offset="0.1348" stop-color="rgb(140,140,140)"/>
<stop offset="0.1397" stop-color="rgb(180,180,180)"/>
<stop offset="0.1430" stop-color="rgb(200,200,200)"/>
<stop offset="0.1736" stop-color="rgb(205,205,205)"/>
<stop offset="0.1777" stop-color="rgb(100,100,100)"/>
<stop offset="0.1826" stop-color="rgb(10,10,10)"/>
<stop offset="0.1888" stop-color="rgb(90,90,90)"/>
<stop offset="0.1941" stop-color="rgb(100,100,100)"/>
<stop offset="0.2010" stop-color="rgb(100,100,100)"/>
<stop offset="0.2035" stop-color="rgb(60,60,60)"/>
<stop offset="0.2084" stop-color="rgb(5,5,5)"/>
<stop offset="0.2133" stop-color="rgb(60,60,60)"/>
<stop offset="0.2186" stop-color="rgb(120,120,120)"/>
<stop offset="0.2278" stop-color="rgb(150,150,150)"/>
<stop offset="0.2451" stop-color="rgb(165,165,165)"/>
<stop offset="0.2574" stop-color="rgb(162,162,162)"/>
<stop offset="0.2656" stop-color="rgb(185,185,185)"/>
<stop offset="0.2942" stop-color="rgb(200,200,200)"/>
<stop offset="0.3023" stop-color="rgb(232,232,232)"/>
<stop offset="0.3514" stop-color="rgb(238,238,238)"/>
<stop offset="0.3616" stop-color="rgb(215,215,215)"/>
<stop offset="0.3718" stop-color="rgb(195,195,195)"/>
<stop offset="0.3902" stop-color="rgb(165,165,165)"/>
<stop offset="0.4045" stop-color="rgb(120,120,120)"/>
<stop offset="0.4106" stop-color="rgb(90,90,90)"/>
<stop offset="0.4172" stop-color="rgb(60,60,60)"/>
<stop offset="0.4229" stop-color="rgb(100,100,100)"/>
<stop offset="0.4290" stop-color="rgb(155,155,155)"/>
<stop offset="0.4678" stop-color="rgb(175,175,175)"/>
<stop offset="0.5005" stop-color="rgb(190,190,190)"/>
<stop offset="0.5042" stop-color="rgb(225,225,225)"/>
<stop offset="0.5761" stop-color="rgb(225,225,225)"/>
<stop offset="0.5802" stop-color="rgb(200,200,200)"/>
<stop offset="0.5875" stop-color="rgb(195,195,195)"/>
<stop offset="0.5924" stop-color="rgb(240,240,240)"/>
<stop offset="0.7640" stop-color="rgb(243,243,243)"/>
<stop offset="0.7763" stop-color="rgb(238,238,238)"/>
<stop offset="0.7824" stop-color="rgb(215,215,215)"/>
<stop offset="0.7875" stop-color="rgb(100,100,100)"/>
<stop offset="0.7931" stop-color="rgb(5,5,5)"/>
<stop offset="0.8000" stop-color="rgb(70,70,70)"/>
<stop offset="0.8151" stop-color="rgb(110,110,110)"/>
<stop offset="0.8429" stop-color="rgb(170,170,170)"/>
<stop offset="0.8560" stop-color="rgb(190,190,190)"/>
<stop offset="0.9030" stop-color="rgb(195,195,195)"/>
<stop offset="0.9173" stop-color="rgb(190,190,190)"/>
<stop offset="0.9316" stop-color="rgb(215,215,215)"/>
<stop offset="0.9990" stop-color="rgb(228,228,228)"/>
</linearGradient>
<linearGradient id="g4" gradientUnits="userSpaceOnUse" x1="56.0" y1="0" x2="545.5" y2="0">
<stop offset="0.0000" stop-color="rgb(150,150,150)"/>
<stop offset="0.0102" stop-color="rgb(155,155,155)"/>
<stop offset="0.0143" stop-color="rgb(170,170,170)"/>
<stop offset="0.0204" stop-color="rgb(170,170,170)"/>
<stop offset="0.0245" stop-color="rgb(160,160,160)"/>
<stop offset="0.0306" stop-color="rgb(165,165,165)"/>
<stop offset="0.0368" stop-color="rgb(215,215,215)"/>
<stop offset="0.0490" stop-color="rgb(218,218,218)"/>
<stop offset="0.1267" stop-color="rgb(225,225,225)"/>
<stop offset="0.1328" stop-color="rgb(235,235,235)"/>
<stop offset="0.1716" stop-color="rgb(232,232,232)"/>
<stop offset="0.1839" stop-color="rgb(195,195,195)"/>
<stop offset="0.1982" stop-color="rgb(172,172,172)"/>
<stop offset="0.2022" stop-color="rgb(130,130,130)"/>
<stop offset="0.2053" stop-color="rgb(60,60,60)"/>
<stop offset="0.2084" stop-color="rgb(5,5,5)"/>
<stop offset="0.2133" stop-color="rgb(60,60,60)"/>
<stop offset="0.2186" stop-color="rgb(130,130,130)"/>
<stop offset="0.2278" stop-color="rgb(170,170,170)"/>
<stop offset="0.2451" stop-color="rgb(190,190,190)"/>
<stop offset="0.2666" stop-color="rgb(200,200,200)"/>
<stop offset="0.2737" stop-color="rgb(235,235,235)"/>
<stop offset="0.3514" stop-color="rgb(235,235,235)"/>
<stop offset="0.3657" stop-color="rgb(210,210,210)"/>
<stop offset="0.3963" stop-color="rgb(195,195,195)"/>
<stop offset="0.5005" stop-color="rgb(200,200,200)"/>
<stop offset="0.5042" stop-color="rgb(170,170,170)"/>
<stop offset="0.5209" stop-color="rgb(115,115,115)"/>
<stop offset="0.5271" stop-color="rgb(60,60,60)"/>
<stop offset="0.5414" stop-color="rgb(45,45,45)"/>
<stop offset="0.5495" stop-color="rgb(5,5,5)"/>
<stop offset="0.5567" stop-color="rgb(55,55,55)"/>
<stop offset="0.5679" stop-color="rgb(80,80,80)"/>
<stop offset="0.5802" stop-color="rgb(100,100,100)"/>
<stop offset="0.5965" stop-color="rgb(170,170,170)"/>
<stop offset="0.6121" stop-color="rgb(210,210,210)"/>
<stop offset="0.6210" stop-color="rgb(228,228,228)"/>
<stop offset="0.6742" stop-color="rgb(236,236,236)"/>
<stop offset="0.6864" stop-color="rgb(250,250,250)"/>
<stop offset="0.7763" stop-color="rgb(245,245,245)"/>
<stop offset="0.7845" stop-color="rgb(215,215,215)"/>
<stop offset="0.7886" stop-color="rgb(150,150,150)"/>
<stop offset="0.7947" stop-color="rgb(140,140,140)"/>
<stop offset="0.7988" stop-color="rgb(190,190,190)"/>
<stop offset="0.8049" stop-color="rgb(215,215,215)"/>
<stop offset="0.9030" stop-color="rgb(217,217,217)"/>
<stop offset="0.9111" stop-color="rgb(205,205,205)"/>
<stop offset="0.9581" stop-color="rgb(205,205,205)"/>
<stop offset="0.9663" stop-color="rgb(225,225,225)"/>
<stop offset="0.9990" stop-color="rgb(227,227,227)"/>
</linearGradient>
</defs>
<rect x="56.6" y="887" width="488.79999999999995" height="28" fill="url(#g1)"/>
<rect x="56.6" y="915" width="488.79999999999995" height="30" fill="url(#g2)"/>
<rect x="56.6" y="951" width="488.79999999999995" height="28.5" fill="url(#g3)"/>
<rect x="56.6" y="980" width="488.79999999999995" height="28" fill="url(#g4)"/>
<line x1="56.6" y1="915.5" x2="545.4" y2="915.5" stroke="#0a0a0a" stroke-width="2.2"/>
<line x1="56.6" y1="980" x2="545.4" y2="980" stroke="#0a0a0a" stroke-width="2.2"/>
<rect x="56.6" y="887.3" width="488.79999999999995" height="57.5" fill="none" stroke="#222" stroke-width="1.3"/>
<rect x="56.6" y="951.3" width="488.79999999999995" height="56.90000000000009" fill="none" stroke="#222" stroke-width="1.3"/>
<line x1="302.5" y1="887.3" x2="302.5" y2="944.8" stroke="#111" stroke-width="1.4"/>
<line x1="302.5" y1="951.3" x2="302.5" y2="1008.2" stroke="#111" stroke-width="1.4"/>
<text x="554.60" y="907.90" font-size="13.1" text-anchor="start" fill="#262626" >FL</text>
<text x="553.60" y="936.50" font-size="13.4" text-anchor="start" fill="#262626" >DLBCL</text>
<text x="554.60" y="972.10" font-size="13.1" text-anchor="start" fill="#262626" >FL</text>
<text x="553.60" y="1000.20" font-size="13.4" text-anchor="start" fill="#262626" >DLBCL</text>
<line x1="607.3" y1="888" x2="607.3" y2="944.6" stroke="#333" stroke-width="1.7"/>
<line x1="607.3" y1="952" x2="607.3" y2="1008" stroke="#333" stroke-width="1.7"/>
<text x="616.20" y="920.90" font-size="16.4" text-anchor="start" fill="#262626" >Patient 1</text>
<text x="616.20" y="984.40" font-size="16.4" text-anchor="start" fill="#262626" >Patient 2</text>
</svg>
</body></html>
